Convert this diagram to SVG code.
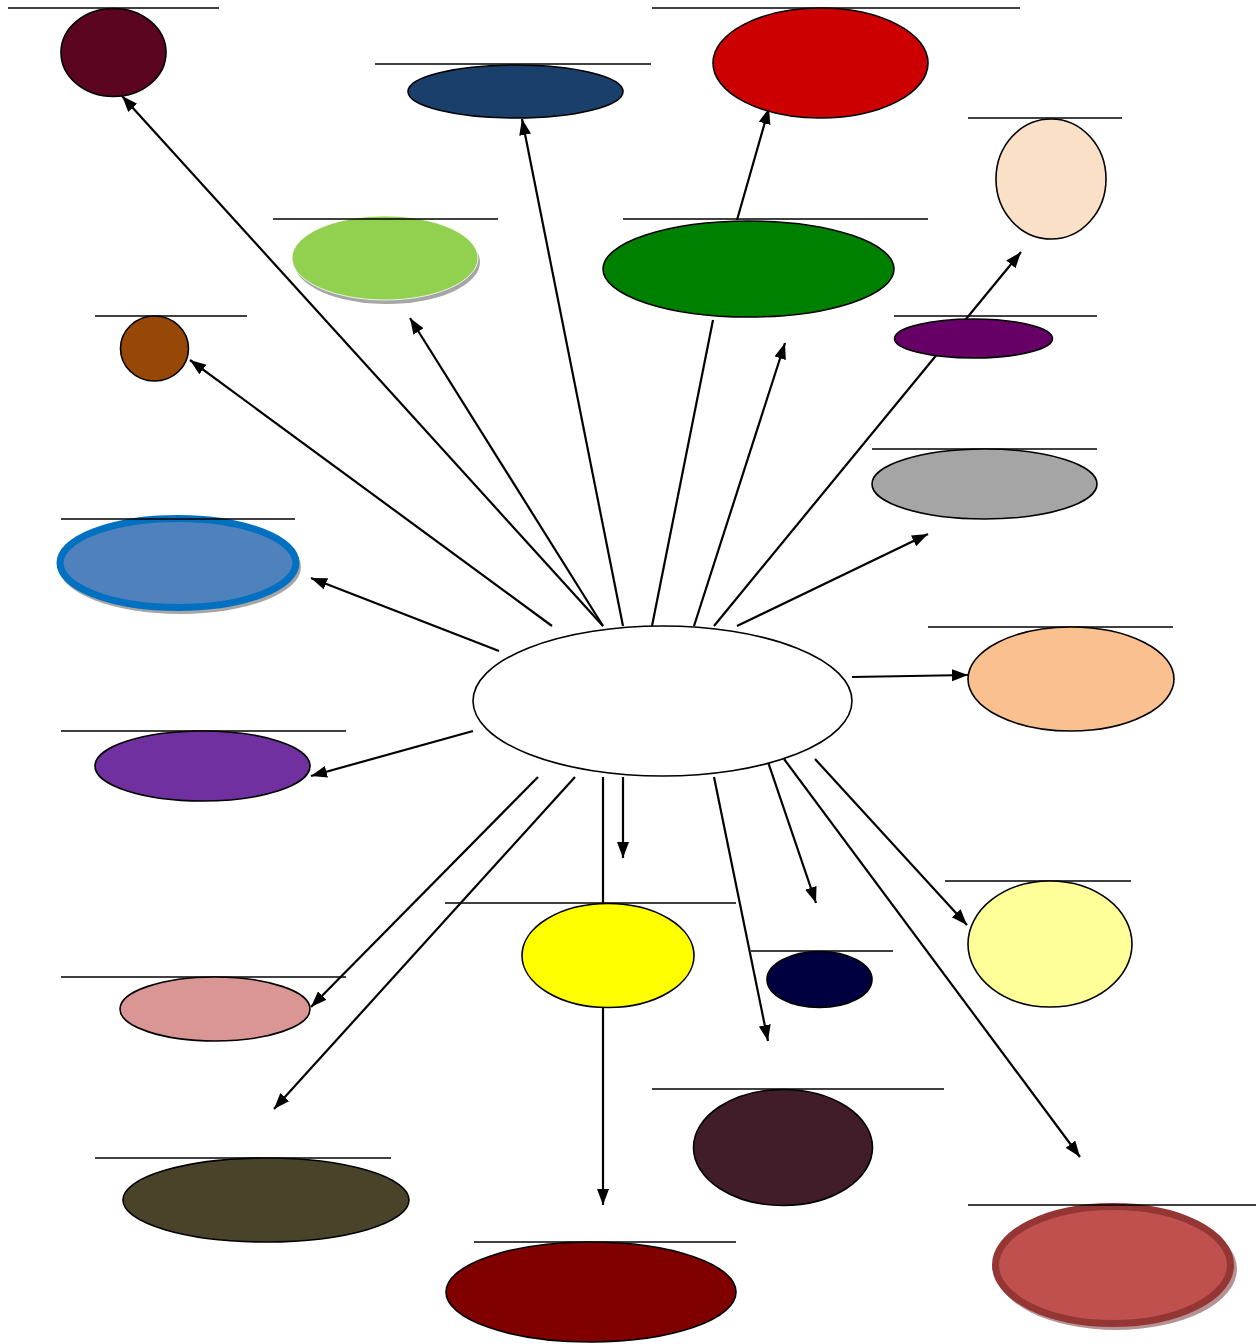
<svg xmlns="http://www.w3.org/2000/svg" width="1256" height="1344" viewBox="0 0 1256 1344">
<defs>
<marker id="arr" markerUnits="userSpaceOnUse" markerWidth="17" markerHeight="13" refX="16" refY="6" orient="auto">
<path d="M0,0 L16,6 L0,12 z" fill="#000"/>
</marker>
</defs>
<style>
.c{stroke:#000;stroke-width:2.2;fill:none}
.a{marker-end:url(#arr)}
.t{stroke:#000;stroke-width:1.6}
.e{stroke:#000;stroke-width:1.6}
.sh{fill:#a6a6a6}
</style>
<rect width="1256" height="1344" fill="#fff"/>
<g id="connectors">
<line class="c a" x1="552" y1="626" x2="190" y2="360"/>
<line class="c a" x1="603" y1="626" x2="122" y2="96"/>
<line class="c a" x1="603" y1="626" x2="410" y2="318"/>
<line class="c a" x1="623" y1="626" x2="522" y2="119"/>
<line class="c" x1="652" y1="626" x2="713" y2="320"/>
<line class="c a" x1="694" y1="626" x2="785" y2="343"/>
<line class="c a" x1="714" y1="626" x2="1021" y2="252"/>
<line class="c a" x1="737" y1="626" x2="928" y2="534"/>
<line class="c a" x1="737" y1="220" x2="769" y2="108"/>
<line class="c a" x1="852" y1="677" x2="968" y2="675"/>
<line class="c a" x1="499" y1="651" x2="311" y2="578"/>
<line class="c a" x1="473" y1="731" x2="311" y2="776"/>
<line class="c a" x1="538" y1="777" x2="311" y2="1007"/>
<line class="c a" x1="575" y1="777" x2="274" y2="1109"/>
<line class="c" x1="603" y1="777" x2="603" y2="903"/>
<line class="c a" x1="623" y1="777" x2="623" y2="858"/>
<line class="c a" x1="714" y1="777" x2="768" y2="1041"/>
<line class="c a" x1="767" y1="759" x2="816" y2="903"/>
<line class="c a" x1="784" y1="759" x2="1080" y2="1157"/>
<line class="c a" x1="815" y1="759" x2="967" y2="925"/>
<line class="c a" x1="603" y1="1008" x2="603" y2="1205"/>
</g>
<g id="center"><ellipse class="e" cx="662.5" cy="701" rx="189.5" ry="75" fill="#fff"/></g>
<g id="n1"><line class="t" x1="8" y1="8" x2="219" y2="8"/><ellipse class="e" cx="113.5" cy="52.5" rx="52.5" ry="44" fill="#5c0520"/></g>
<g id="n2"><line class="t" x1="375" y1="64" x2="651" y2="64"/><ellipse class="e" cx="515.5" cy="91.5" rx="107.5" ry="26.5" fill="#1b3f6b"/></g>
<g id="n3"><line class="t" x1="652" y1="8" x2="1020" y2="8"/><ellipse class="e" cx="820.5" cy="63" rx="107.5" ry="55" fill="#cc0000"/></g>
<g id="n4"><line class="t" x1="968" y1="118" x2="1122" y2="118"/><ellipse class="e" cx="1051" cy="179" rx="55" ry="60" fill="#fbe0c8"/></g>
<g id="n5"><ellipse class="sh" cx="387" cy="262" rx="93" ry="42"/><ellipse cx="385" cy="258" rx="93" ry="42" fill="#92d050" stroke="#fff" stroke-width="0.8"/><line class="t" x1="273" y1="219" x2="498" y2="219"/></g>
<g id="n6"><line class="t" x1="623" y1="219" x2="928" y2="219"/><ellipse class="e" cx="748.5" cy="269" rx="145.5" ry="48" fill="#008000"/></g>
<g id="n7"><line class="t" x1="95" y1="316" x2="247" y2="316"/><ellipse class="e" cx="154.5" cy="348.5" rx="34" ry="32.5" fill="#974806"/></g>
<g id="n8"><line class="t" x1="894" y1="316" x2="1097" y2="316"/><ellipse class="e" cx="973.5" cy="338.5" rx="79" ry="19.5" fill="#660066"/></g>
<g id="n9"><line class="t" x1="872" y1="449" x2="1097" y2="449"/><ellipse class="e" cx="984.5" cy="484" rx="112.5" ry="35" fill="#a5a5a5"/></g>
<g id="n10"><ellipse class="sh" cx="180" cy="567" rx="121" ry="47"/><ellipse cx="178" cy="563" rx="118" ry="44.5" fill="#4f81bd" stroke="#0070c0" stroke-width="7"/><line class="t" x1="61" y1="519" x2="295" y2="519"/></g>
<g id="n11"><line class="t" x1="928" y1="627" x2="1173" y2="627"/><ellipse class="e" cx="1071" cy="679" rx="103" ry="52" fill="#fac090"/></g>
<g id="n12"><line class="t" x1="61" y1="731" x2="346" y2="731"/><ellipse class="e" cx="202.5" cy="766" rx="107.5" ry="35" fill="#7030a0"/></g>
<g id="n13"><line class="t" x1="61" y1="977" x2="346" y2="977"/><ellipse class="e" cx="215" cy="1009" rx="95" ry="32" fill="#d99694"/></g>
<g id="n14"><line class="t" x1="445" y1="903" x2="736" y2="903"/><ellipse class="e" cx="608" cy="955.5" rx="86" ry="52" fill="#ffff00"/></g>
<g id="n15"><line class="t" x1="751" y1="951" x2="893" y2="951"/><ellipse class="e" cx="819.5" cy="979.5" rx="52.5" ry="28" fill="#000040"/></g>
<g id="n16"><line class="t" x1="945" y1="881" x2="1131" y2="881"/><ellipse class="e" cx="1050" cy="944" rx="82" ry="63" fill="#ffff99"/></g>
<g id="n17"><line class="t" x1="95" y1="1158" x2="391" y2="1158"/><ellipse class="e" cx="266" cy="1200" rx="143" ry="42" fill="#494429"/></g>
<g id="n18"><line class="t" x1="652" y1="1089" x2="944" y2="1089"/><ellipse class="e" cx="783" cy="1147.5" rx="89.5" ry="58" fill="#411d2a"/></g>
<g id="n19"><line class="t" x1="474" y1="1242" x2="736" y2="1242"/><ellipse class="e" cx="591" cy="1292" rx="145" ry="50" fill="#800000"/></g>
<g id="n20"><ellipse cx="1116" cy="1269" rx="121" ry="61" fill="#b59293"/><ellipse cx="1113" cy="1265" rx="117.5" ry="58.5" fill="#c0504d" stroke="#943634" stroke-width="7"/><line class="t" x1="968" y1="1205" x2="1256" y2="1205"/></g>
</svg>
